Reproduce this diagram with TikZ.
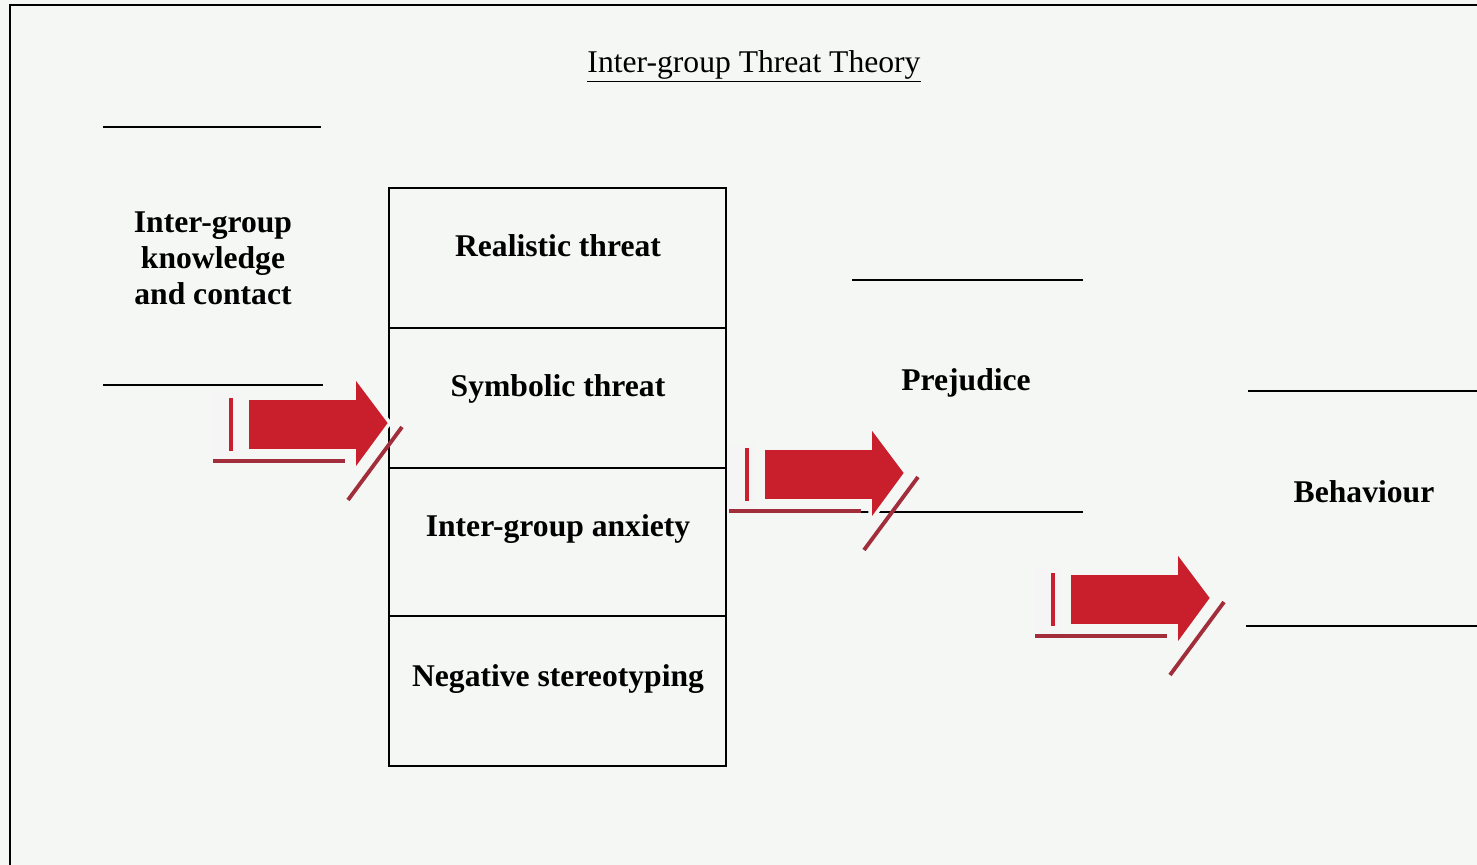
\documentclass[tikz,border=0pt]{standalone}
\usepackage{fontspec}
\setmainfont{Liberation Serif}
\definecolor{arrowred}{HTML}{C91F2C}
\definecolor{edgered}{HTML}{A12E3A}
\definecolor{paper}{HTML}{F5F7F5}

\begin{document}
\begin{tikzpicture}[x=0.02cm, y=-0.02cm,
  label/.style={font=\fontsize{18}{20.5}\selectfont\bfseries, inner sep=0pt, anchor=base},
  rule/.style={line width=0.9pt},
  threatarrow/.pic={
    \fill[gray!8] (-178,-30) rectangle (-150,36);
    \fill[arrowred, draw=paper, line width=2pt] (-143,-25) -- (-36,-25) -- (-36,-48) -- (0,0)
      -- (-36,49) -- (-36,28) -- (-143,28) -- cycle;
    \fill[arrowred] (-161,-25) rectangle (-157,28);
    \draw[edgered, line width=1.8pt] (-177,38) -- (-45,38);
    \draw[edgered, line width=2.2pt] (12,4) -- (-42,77);
  }]

\useasboundingbox (0,0) rectangle (1477,865);
\fill[paper] (0,0) rectangle (1477,865);

% frame
\draw[line width=1.1pt] (10,865) -- (10,5) -- (1477,5);

% title
\node[font=\fontsize{18}{20.5}\selectfont, inner sep=0pt, anchor=base] (title) at (754,72)
  {\underline{Inter-group Threat Theory}};

% contact
\draw[rule] (103,127) -- (321,127);
\draw[rule] (103,385) -- (323,385);
\node[label, anchor=center, align=center] (contact) at (213,258)
  {Inter-group\\knowledge\\and contact};

% threats
\draw[line width=0.8pt] (389,188) rectangle (726,766);
\draw[line width=0.8pt] (389,328) -- (726,328);
\draw[line width=0.8pt] (389,468) -- (726,468);
\draw[line width=0.8pt] (389,616) -- (726,616);
\node[label] (realistic) at (558,256) {Realistic threat};
\node[label] (symbolic) at (558,396) {Symbolic threat};
\node[label] (anxiety) at (558,536) {Inter-group anxiety};
\node[label] (stereo) at (558,686) {Negative stereotyping};

% prejudice
\draw[rule] (852,280) -- (1083,280);
\draw[rule] (852,512) -- (1083,512);
\node[label] (prejudice) at (966,390) {Prejudice};

% behaviour
\draw[rule] (1248,391) -- (1477,391);
\draw[rule] (1246,626) -- (1477,626);
\node[label] (behaviour) at (1364,502) {Behaviour};

% arrows
\pic at (390,423) {threatarrow};
\pic at (906,473) {threatarrow};
\pic at (1212,598) {threatarrow};

\end{tikzpicture}
\end{document}
